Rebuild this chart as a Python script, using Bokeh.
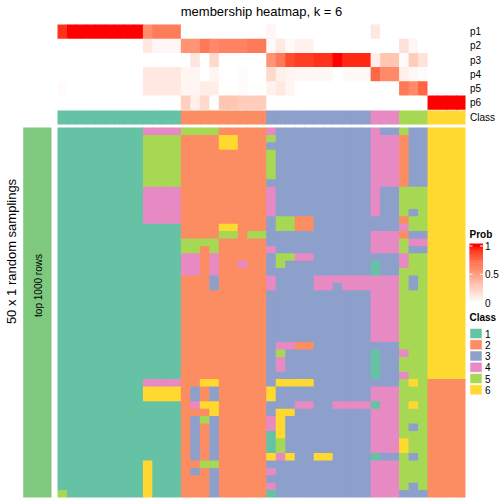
import numpy as np
from bokeh.plotting import figure
from bokeh.models import Range1d
from bokeh.core.properties import value
from bokeh.embed import file_html
from bokeh.resources import INLINE

# ---------------- data ----------------
TITLE = "membership heatmap, k = 6"
ROW_NAMES = ["p1", "p2", "p3", "p4", "p5", "p6"]
CLASS_LABELS = ["1", "2", "3", "4", "5", "6"]
CLASS_COLORS = ["#66C2A5", "#FC8D62", "#8DA0CB", "#E78AC3", "#A6D854", "#FFD92F"]

# membership probabilities for the 43 samples (columns)
P1 = [0.93, 1.0, 1.0, 1.0, 1.0, 1.0, 1.0, 1.0, 1.0, 0.58, 0.66, 0.66, 0.66,
      0, 0, 0, 0, 0, 0, 0, 0, 0, 0.05, 0, 0, 0, 0, 0, 0, 0, 0, 0, 0,
      0.12, 0, 0, 0, 0, 0, 0, 0, 0, 0]
P2 = [0, 0, 0, 0, 0, 0, 0, 0, 0, 0.12, 0.04, 0.04, 0.04,
      0.55, 0.55, 0.68, 0.6, 0.63, 0.63, 0.63, 0.67, 0.67, 0.03, 0.11, 0.03, 0.07, 0.07,
      0, 0, 0, 0, 0, 0, 0, 0, 0, 0.16, 0.04, 0, 0, 0, 0, 0]
P3 = [0, 0, 0, 0, 0, 0, 0, 0, 0, 0, 0, 0, 0, 0, 0.13, 0, 0.2, 0, 0, 0, 0, 0,
      0.55, 0.68, 0.85, 0.9, 0.9, 0.93, 0.93, 1.0, 0.95, 0.95, 0.95,
      0.09, 0.3, 0.3, 0.02, 0.26, 0.15, 0, 0, 0, 0]
P4 = [0, 0, 0, 0, 0, 0, 0, 0, 0, 0.12, 0.12, 0.12, 0.12,
      0.05, 0.05, 0, 0.05, 0, 0, 0.02, 0, 0,
      0.2, 0.08, 0.06, 0.04, 0.04, 0.04, 0.04, 0, 0.03, 0.03, 0.03,
      0.75, 0.6, 0.6, 0.08, 0.04, 0.02, 0, 0, 0, 0]
P5 = [0.02, 0, 0, 0, 0, 0, 0, 0, 0, 0.12, 0.12, 0.12, 0.12,
      0.05, 0.05, 0.09, 0.09, 0, 0, 0.02, 0, 0,
      0.07, 0.12, 0.05, 0, 0, 0, 0, 0, 0, 0, 0, 0, 0, 0,
      0.68, 0.6, 0.76, 0, 0, 0, 0]
P6 = [0, 0, 0, 0, 0, 0, 0, 0, 0, 0, 0, 0, 0,
      0.25, 0.08, 0.2, 0, 0.3, 0.3, 0.26, 0.26, 0.26,
      0, 0, 0, 0, 0, 0, 0, 0, 0, 0, 0, 0, 0, 0, 0, 0, 0,
      1.0, 1.0, 1.0, 1.0]

# consensus class of each column
SAMPLE_CLASS = [1, 1, 1, 1, 1, 1, 1, 1, 1, 1, 1, 1, 1,
                2, 2, 2, 2, 2, 2, 2, 2, 2,
                3, 3, 3, 3, 3, 3, 3, 3, 3, 3, 3,
                4, 4, 4, 5, 5, 5, 6, 6, 6, 6]

# class per random sampling (50 rows), per column, as runs "class:count" top to bottom
SAMPLING_RUNS = [
    "1:49 5:1",
    "1:50", "1:50", "1:50", "1:50", "1:50", "1:50", "1:50", "1:50",
    "4:1 5:7 4:5 1:21 4:1 6:2 1:8 6:5",
    "4:1 5:7 4:5 1:21 4:1 6:2 1:13",
    "4:1 5:7 4:5 1:21 4:1 6:2 1:13",
    "4:1 5:7 4:5 1:21 4:1 6:2 1:13",
    "5:1 2:14 5:2 4:3 2:30",
    "5:1 2:14 5:2 4:3 2:15 3:2 4:1 2:1 3:6 2:1 3:1 2:3",
    "5:1 2:14 5:1 2:18 6:1 2:2 6:1 2:1 5:1 2:5 5:1 2:4",
    "5:1 2:14 5:2 4:3 3:2 2:12 6:1 3:2 6:2 3:6 5:1 3:4",
    "2:1 6:2 2:10 6:1 5:1 2:35",
    "2:1 6:2 2:10 6:1 5:1 2:35",
    "2:18 4:1 2:31",
    "2:14 5:1 2:35",
    "2:14 5:1 2:35",
    "4:1 5:1 3:1 5:4 3:1 4:4 3:4 4:1 3:3 4:2 3:13 6:2 3:2 4:2 1:3 6:1 3:1 4:1 3:1 4:1 1:1",
    "3:12 5:2 3:3 5:2 3:10 4:1 5:1 4:2 3:1 6:1 3:3 6:4 5:2 4:1 3:5",
    "3:12 5:2 3:3 5:1 3:11 4:1 3:4 6:1 3:3 6:1 3:5 6:1 3:5",
    "3:12 2:2 3:3 4:1 3:11 2:1 3:4 6:1 3:2 4:1 3:12",
    "3:12 2:2 3:3 4:1 3:11 2:1 3:4 6:1 3:2 4:1 3:12",
    "3:20 4:2 3:22 6:1 3:5",
    "3:20 4:2 3:22 6:1 3:5",
    "3:20 4:1 3:16 4:1 3:12",
    "3:20 4:2 3:15 4:1 3:12",
    "3:20 4:2 3:15 4:1 3:12",
    "3:20 4:2 3:15 4:1 3:12",
    "4:12 3:2 4:3 3:1 1:2 4:9 3:1 1:4 3:1 4:2 1:1 4:6 1:1 4:5",
    "3:1 4:7 3:6 4:3 3:3 4:9 3:6 4:9 3:1 4:5",
    "3:1 4:7 3:6 4:3 3:3 4:9 3:6 4:9 3:1 4:5",
    "5:1 2:7 5:4 2:1 4:1 2:1 5:2 4:2 5:11 4:1 5:2 4:1 5:8 6:2 5:5 3:1",
    "3:8 5:3 3:1 5:2 3:1 4:1 3:1 5:3 3:2 5:12 6:1 5:2 6:1 5:2 3:1 5:3 3:1 5:3 3:2",
    "3:8 5:6 3:1 4:1 3:1 5:32 3:1",
    "6:34 2:16", "6:34 2:16", "6:34 2:16", "6:34 2:16",
]
N_SAMPLINGS = 50
LEFT_TITLE = "50 x 1 random samplings"
LEFT_ANNOT = "top 1000 rows"
LEFT_ANNOT_COLOR = "#7FC97F"
PROB_TICKS = [0, 0.5, 1]
PROB_TICK_LABELS = ["0", "0.5", "1"]

# ---------------- colour mapping (white -> red in LAB) ----------------
_M = np.array([[0.4124564, 0.3575761, 0.1804375],
               [0.2126729, 0.7151522, 0.0721750],
               [0.0193339, 0.1191920, 0.9503041]])
_WR = np.array([0.95047, 1.0, 1.08883])


def _rgb2lab(rgb):
    c = np.array(rgb, float) / 255
    lin = np.where(c <= 0.04045, c / 12.92, ((c + 0.055) / 1.055) ** 2.4)
    xyz = _M @ lin / _WR
    d = 6 / 29
    f = np.where(xyz > d ** 3, np.cbrt(xyz), xyz / (3 * d * d) + 4 / 29)
    return np.array([116 * f[1] - 16, 500 * (f[0] - f[1]), 200 * (f[1] - f[2])])


def _lab2hex(lab):
    L, a, b = lab
    fy = (L + 16) / 116
    f = np.array([fy + a / 500, fy, fy - b / 200])
    d = 6 / 29
    xyz = np.where(f > d, f ** 3, 3 * d * d * (f - 4 / 29)) * _WR
    lin = np.clip(np.linalg.inv(_M) @ xyz, 0, 1)
    c = np.where(lin <= 0.0031308, 12.92 * lin, 1.055 * lin ** (1 / 2.4) - 0.055)
    c = np.clip(c, 0, 1)
    return "#%02x%02x%02x" % tuple(int(round(v * 255)) for v in c)


_LAB0 = _rgb2lab([255, 255, 255])
_LAB1 = _rgb2lab([255, 0, 0])


def prob_color(v):
    v = min(max(v, 0.0), 1.0)
    return _lab2hex(_LAB0 + (_LAB1 - _LAB0) * v)


# ---------------- layout (page pixels; page is rendered without margin) ----------------
W = H = 504
N_COL = len(SAMPLE_CLASS)
X0, X1 = 57.0, 465.0
CW = (X1 - X0) / N_COL
OV = 0.08                      # small overlap (in columns) to hide anti-aliasing seams


def xc(px):
    return (px - X0) / CW


TOP_Y0, TOP_RH = 24.0, 14.2
CLASS_Y0, CLASS_Y1 = 110.0, 124.0
MAIN_Y0, MAIN_Y1 = 127.0, 497.0
MAIN_RH = (MAIN_Y1 - MAIN_Y0) / N_SAMPLINGS
FONT = value("Liberation Sans")

p = figure(width=W, height=H, x_range=Range1d(xc(0), xc(W)),
           y_range=Range1d(H, 0), output_backend="svg", toolbar_location=None,
           x_axis_type=None, y_axis_type=None, min_border=0,
           outline_line_color=None)
p.grid.visible = False
p.background_fill_color = "white"
p.border_fill_color = "white"


def rx(c):
    return c + 1 + (OV if c < N_COL - 1 else 0)


# membership rows
L, R, T, B, C = [], [], [], [], []
for i, row in enumerate([P1, P2, P3, P4, P5, P6]):
    for c, v in enumerate(row):
        L.append(c); R.append(rx(c))
        T.append(TOP_Y0 + TOP_RH * i)
        B.append(TOP_Y0 + TOP_RH * (i + 1) + (0.6 if i < 5 else 0))
        C.append(prob_color(v))
p.quad(left=L, right=R, top=T, bottom=B, fill_color=C, line_color=None)

# class annotation row
cc = [CLASS_COLORS[k - 1] for k in SAMPLE_CLASS]
p.quad(left=list(range(N_COL)), right=[rx(c) for c in range(N_COL)],
       top=[CLASS_Y0] * N_COL, bottom=[CLASS_Y1] * N_COL,
       fill_color=cc, line_color=None)

# sampling heatmap
L, R, T, B, C = [], [], [], [], []
for c, runs in enumerate(SAMPLING_RUNS):
    r = 0
    for tok in runs.split():
        k, n = map(int, tok.split(":"))
        L.append(c); R.append(rx(c))
        T.append(MAIN_Y0 + MAIN_RH * r)
        B.append(MAIN_Y0 + MAIN_RH * (r + n) + (0.6 if r + n < N_SAMPLINGS else 0))
        C.append(CLASS_COLORS[k - 1])
        r += n
    assert r == N_SAMPLINGS, (c, r)
p.quad(left=L, right=R, top=T, bottom=B, fill_color=C, line_color=None)

# left annotation bar
p.quad(left=[xc(22.7)], right=[xc(51.0)], top=[MAIN_Y0], bottom=[MAIN_Y1],
       fill_color=LEFT_ANNOT_COLOR, line_color=None)
p.text(x=[xc(38.0)], y=[285], text=[LEFT_ANNOT], angle=np.pi / 2,
       text_align="center", text_baseline="middle", text_font=FONT,
       text_font_size="10px", text_color="black")
p.text(x=[xc(10.5)], y=[251], text=[LEFT_TITLE], angle=np.pi / 2,
       text_align="center", text_baseline="middle", text_font=FONT,
       text_font_size="13px", text_color="black")

# title
p.text(x=[N_COL / 2], y=[11], text=[TITLE], text_align="center",
       text_baseline="middle", text_font=FONT, text_font_size="13px",
       text_color="black")

# row names
ys = [TOP_Y0 + TOP_RH * (i + 0.5) for i in range(6)] + [(CLASS_Y0 + CLASS_Y1) / 2]
p.text(x=[xc(469.5)] * 7, y=ys, text=ROW_NAMES + ["Class"], text_align="left",
       text_baseline="middle", text_font=FONT, text_font_size="10px",
       text_color="black")

# Prob legend
p.text(x=[xc(469)], y=[234], text=["Prob"], text_align="left",
       text_baseline="middle", text_font=FONT, text_font_size="10px",
       text_font_style="bold", text_color="black")
BAR_Y0, BAR_Y1 = 302.0, 245.5   # value 0 -> BAR_Y0, value 1 -> BAR_Y1
grad = np.linspace(0, 1, 60)
step = grad[1] - grad[0]


def gy(v):
    return BAR_Y0 + (BAR_Y1 - BAR_Y0) * v


gl, gr, gt, gb, gcol = [], [], [], [], []
for v in grad:
    gl.append(xc(469)); gr.append(xc(482.5))
    gt.append(gy(min(v + step / 2 + 0.01, 1.0)) if v < 1 else 243.0)
    gb.append(gy(max(v - step / 2, 0.0)))
    gcol.append(prob_color(v))
p.quad(left=gl, right=gr, top=gt, bottom=gb, fill_color=gcol, line_color=None)
for t in PROB_TICKS:
    p.segment(x0=[xc(469), xc(479.5)], x1=[xc(472), xc(482.5)],
              y0=[gy(t)] * 2, y1=[gy(t)] * 2, line_color="white", line_width=1)
p.text(x=[xc(484.5)] * 3, y=[gy(t) for t in PROB_TICKS], text=PROB_TICK_LABELS,
       text_align="left", text_baseline="middle", text_font=FONT,
       text_font_size="10px", text_color="black")

# Class legend
p.text(x=[xc(469)], y=[317], text=["Class"], text_align="left",
       text_baseline="middle", text_font=FONT, text_font_size="10px",
       text_font_style="bold", text_color="black")
SW_Y0, SW_P, SW_H = 328.0, 11.25, 10.0
p.quad(left=[xc(469.5)] * 6, right=[xc(481.5)] * 6,
       top=[SW_Y0 + SW_P * i for i in range(6)],
       bottom=[SW_Y0 + SW_P * i + SW_H for i in range(6)],
       fill_color=CLASS_COLORS, line_color="white", line_width=1, line_alpha=0.5)
p.text(x=[xc(484.5)] * 6, y=[SW_Y0 + SW_P * i + SW_H / 2 for i in range(6)],
       text=CLASS_LABELS, text_align="left", text_baseline="middle",
       text_font=FONT, text_font_size="10px", text_color="black")

open("out.html", "w").write(file_html(p, INLINE))
